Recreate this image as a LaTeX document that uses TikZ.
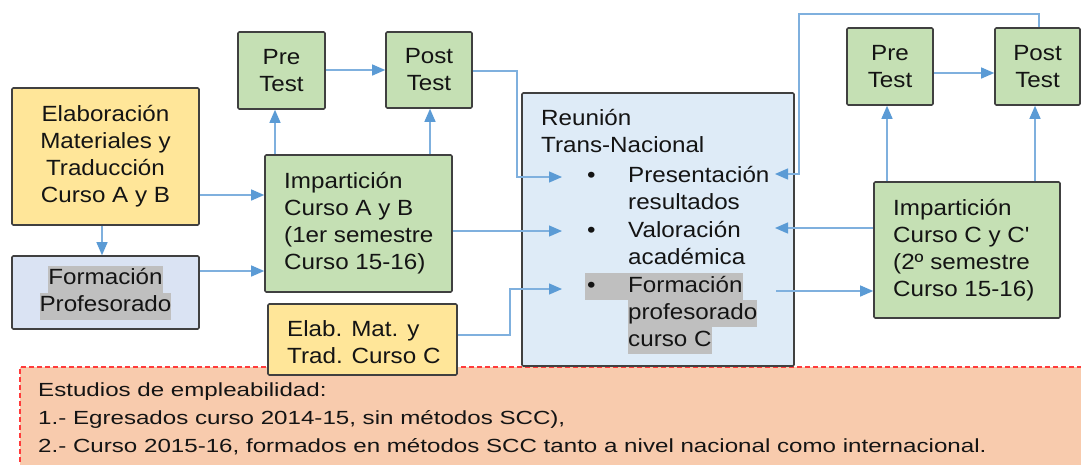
\documentclass[tikz,border=0pt]{standalone}
\usepackage{fontspec}
\setmainfont[FakeStretch=1.1]{Liberation Sans}
\newfontfamily\bottomfont[FakeStretch=1.27]{Liberation Sans}
\usetikzlibrary{arrows.meta}
\definecolor{yel}{HTML}{FFE699}
\definecolor{grn}{HTML}{C5E0B4}
\definecolor{lblue}{HTML}{DAE3F3}
\definecolor{rblue}{HTML}{DEEBF7}
\definecolor{bord}{HTML}{404040}
\definecolor{connc}{HTML}{7FB0DE}
\definecolor{tipc}{HTML}{5B9BD5}
\definecolor{hlgray}{HTML}{BFBFBF}
\definecolor{peach}{HTML}{F8CBAD}
\definecolor{dashred}{HTML}{FF3B3B}
\definecolor{txt}{HTML}{141414}
\newcommand\hlt[1]{{\setlength{\fboxsep}{0pt}\colorbox{hlgray}{\strut #1}}}
\newcommand\mainsize{\fontsize{22}{27}\selectfont}
\newcommand\sq{{\addfontfeatures{Ligatures=TeXOff}'}}
\begin{document}
\begin{tikzpicture}[x=1pt,y=-1pt,
  box/.style={draw=bord, line width=1.6pt, rounded corners=1.2pt, inner sep=0pt,
    text=txt, font=\mainsize, align=center},
  conn/.style={draw=connc, line width=1.3pt, -{Triangle[length=13pt,width=11pt,color=tipc]}},
  lbl/.style={inner sep=0pt, text=txt, font=\mainsize, align=left},
  ]
\useasboundingbox (0,0) rectangle (1081,464);
\fill[white] (0,0) rectangle (1081,464);
% employability box
\node[draw=dashred, fill=peach, dash pattern=on 5pt off 3pt, line width=1.6pt,
  minimum width=1080pt, minimum height=110pt, anchor=north west, inner sep=0pt] (emp) at (19,366) {};
\node[inner sep=0pt, text=txt, align=left, anchor=north west,
  font=\bottomfont\fontsize{19}{28}\selectfont] (emptext) at (38,376.4)
  {\strut Estudios de empleabilidad:\\\strut 1.- Egresados curso 2014-15, sin métodos SCC),\\\strut 2.- Curso 2015-16, formados en métodos SCC tanto a nivel nacional como internacional.};

% boxes
\node[box, fill=yel, minimum width=187pt, minimum height=137pt] (elab) at (105.5,156.5)
  {Elaboración\\Materiales y\\Traducción\\Curso A y B};
\node[box, fill=lblue, minimum width=187pt, minimum height=73pt] (form) at (105.5,292.5)
  {\hlt{Formación}\\\hlt{Profesorado}};
\node[box, fill=grn, minimum width=87pt, minimum height=77pt] (pre1) at (281.5,70.5) {Pre\\Test};
\node[box, fill=grn, minimum width=86pt, minimum height=76pt] (post1) at (429,70) {Post\\Test};
\node[box, fill=grn, minimum width=187pt, minimum height=137pt] (impAB) at (358.5,223.5) {};
\node[lbl, anchor=west] (impABt) at (284,223.5) {Impartición\\Curso A y B\\(1er semestre\\Curso 15-16)};
\node[box, fill=yel, minimum width=189pt, minimum height=71pt] (elabC) at (362.5,339.5) {};
\node[lbl, anchor=west] (elabCt) at (287,342) {Elab. Mat. y\\Trad. Curso C};
\node[box, fill=rblue, minimum width=272pt, minimum height=273pt] (reun) at (658,229.5) {};
\node[box, fill=grn, minimum width=86pt, minimum height=77pt] (pre2) at (890,66.5) {Pre\\Test};
\node[box, fill=grn, minimum width=85pt, minimum height=77pt] (post2) at (1037.5,66.5) {Post\\Test};
\node[box, fill=grn, minimum width=186pt, minimum height=136pt] (impC) at (967,250) {};
\node[lbl, anchor=west] (impCt) at (893,250) {Impartición\\Curso C y C\sq\\(2º semestre\\Curso 15-16)};

% Reunion texts
\node[lbl, anchor=north west] (reunt) at (541,106.1) {\strut Reunión\\\strut Trans-Nacional};
\node[lbl, anchor=north west] (itP) at (585,163.1)
  {\strut\makebox[43pt][l]{\hspace*{2pt}•}Presentación\\\strut\hspace*{43pt}resultados};
\node[lbl, anchor=north west] (itV) at (585,218.1)
  {\strut\makebox[43pt][l]{\hspace*{2pt}•}Valoración\\\strut\hspace*{43pt}académica};
\node[lbl, anchor=north west] (itF) at (585,273.1)
  {\hlt{\makebox[43pt][l]{\hspace*{2pt}•}Formación}\\\hspace*{43pt}\hlt{profesorado}\\\hspace*{43pt}\hlt{curso C}};

% connector end points inside the meeting box
\coordinate (inPres) at (562,177);
\coordinate (inVal) at (562,231);
\coordinate (inForm) at (562,289);
\coordinate (inPresR) at (775,174);
\coordinate (inValR) at (775,228);
\coordinate (outForm) at (776,291);

% connectors
\draw[conn] (elab.east |- 0,195) -- (impAB.west |- 0,195);
\draw[conn] (elab.south -| 102,0) -- (form.north -| 102,0);
\draw[conn] (form.east |- 0,271) -- (impAB.west |- 0,271);
\draw[conn] (impAB.north -| 275,0) -- (pre1.south -| 275,0);
\draw[conn] (impAB.north -| 430,0) -- (post1.south -| 430,0);
\draw[conn] (pre1.east |- 0,70) -- (post1.west |- 0,70);
\draw[conn] (post1.east |- 0,71) -| (inPres -| 517,0) -- (inPres);
\draw[conn] (impAB.east |- 0,231) -- (inVal);
\draw[conn] (elabC.east |- 0,335) -| (inForm -| 510,0) -- (inForm);
\draw[conn] (post2.north -| 1039,0) |- (799,14) |- (inPresR);
\draw[conn] (impC.west |- 0,228) -- (inValR);
\draw[conn] (outForm) -- (impC.west |- 0,291);
\draw[conn] (impC.north -| 887,0) -- (pre2.south -| 887,0);
\draw[conn] (impC.north -| 1035,0) -- (post2.south -| 1035,0);
\draw[conn] (pre2.east |- 0,73) -- (post2.west |- 0,73);
\end{tikzpicture}
\end{document}
